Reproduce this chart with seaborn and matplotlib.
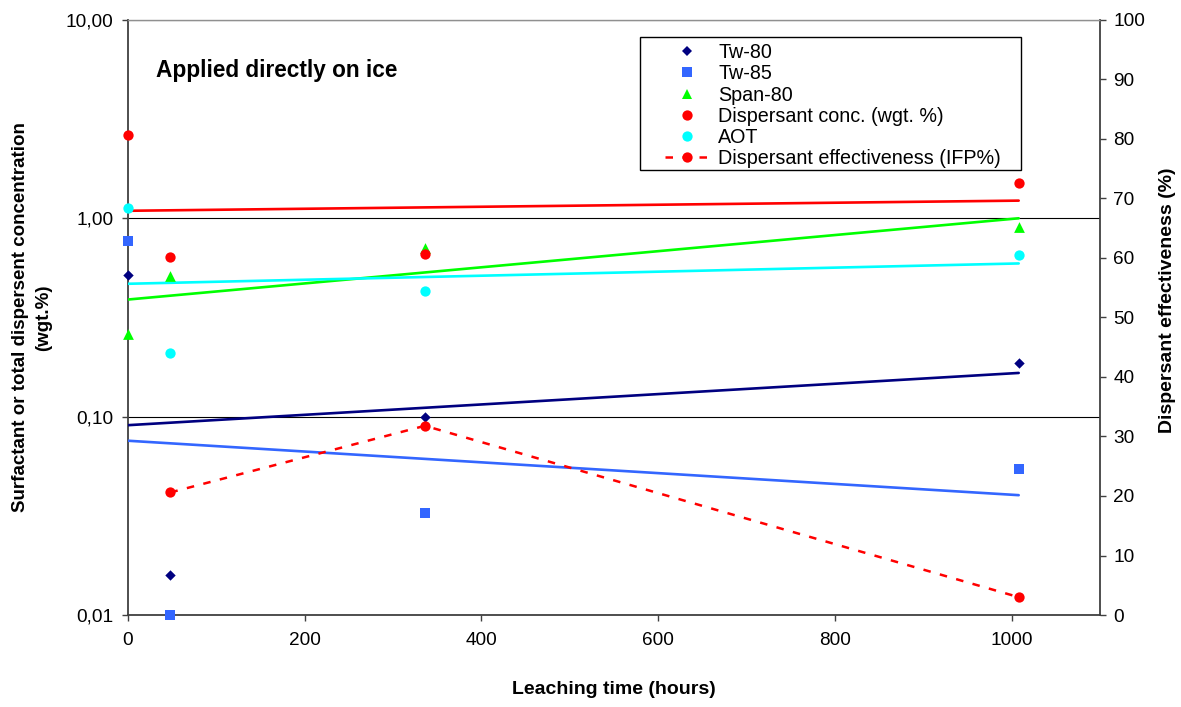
import numpy as np
import pandas as pd
import matplotlib
matplotlib.use("Agg")
import matplotlib.pyplot as plt
import seaborn as sns
from matplotlib import font_manager
from matplotlib.ticker import FixedLocator, FuncFormatter, NullLocator
from matplotlib.patches import Rectangle

# ---------------- data ----------------
hours = [0, 48, 336, 1008]
tw80 = [0.52, 0.016, 0.10, 0.187]
tw85 = [0.77, 0.010, 0.0325, 0.0546]
span80 = [0.26, 0.51, 0.71, 0.90]
disp_conc = [2.62, 0.64, 0.66, 1.51]
aot = [1.13, 0.21, 0.43, 0.65]
ifp_hours = [48, 336, 1008]
ifp = [20.6, 31.8, 3.0]

series_names = ["Tw-80", "Tw-85", "Span-80", "Dispersant conc. (wgt. %)", "AOT"]
series_values = [tw80, tw85, span80, disp_conc, aot]
ifp_label = "Dispersant effectiveness (IFP%)"

x_ticks = [0, 200, 400, 600, 800, 1000]
left_ticks = [0.01, 0.1, 1, 10]
right_ticks = list(range(0, 101, 10))

# ---------------- style ----------------
sns.set_theme(style="white")
names = {f.name for f in font_manager.fontManager.ttflist}
narrow = "Liberation Sans Narrow" if "Liberation Sans Narrow" in names else "Liberation Sans"
plt.rcParams["font.family"] = ["Liberation Sans", "DejaVu Sans"]
plt.rcParams["text.color"] = "black"
plt.rcParams["axes.labelcolor"] = "black"
plt.rcParams["xtick.color"] = "black"
plt.rcParams["ytick.color"] = "black"

colors = {"Tw-80": "#000080", "Tw-85": "#3366FF", "Span-80": "#00FF00",
          "Dispersant conc. (wgt. %)": "#FF0000", "AOT": "#00FFFF"}
markers = {"Tw-80": "D", "Tw-85": "s", "Span-80": "^",
           "Dispersant conc. (wgt. %)": "o", "AOT": "o"}
msizes = {"Tw-80": 28, "Tw-85": 48, "Span-80": 60,
          "Dispersant conc. (wgt. %)": 55, "AOT": 55}

W, H = 1181, 707
fig = plt.figure(figsize=(W / 100, H / 100), dpi=100)
L, R, T, B = 128, 1100, 20, 615
ax = fig.add_axes([L / W, 1 - B / H, (R - L) / W, (B - T) / H])

df = pd.DataFrame({
    "hours": np.tile(hours, len(series_names)),
    "conc": np.concatenate(series_values),
    "series": np.repeat(series_names, len(hours)),
})

handles = []
for name in series_names:
    sub = df[df["series"] == name]
    sns.scatterplot(data=sub, x="hours", y="conc", ax=ax, color=colors[name],
                    marker=markers[name], s=msizes[name], linewidth=0,
                    zorder=4, legend=False, clip_on=False)
    # exponential trend line (least squares on log values)
    k, b0 = np.polyfit(sub["hours"], np.log10(sub["conc"]), 1)
    xfit = np.array([sub["hours"].min(), sub["hours"].max()])
    yfit = 10 ** (k * xfit + b0)
    sns.lineplot(x=xfit, y=yfit, ax=ax, color=colors[name], lw=1.9, zorder=3)
    handles.append(plt.Line2D([], [], ls="none", marker=markers[name],
                              color=colors[name], markersize=np.sqrt(msizes[name]),
                              markeredgewidth=0, label=name))

ax.set_yscale("log")
ax.set_xlim(0, 1100)
ax.set_ylim(0.01, 10)
ax.xaxis.set_major_locator(FixedLocator(x_ticks))
ax.yaxis.set_major_locator(FixedLocator(left_ticks))
ax.yaxis.set_minor_locator(NullLocator())
ax.yaxis.set_major_formatter(FuncFormatter(lambda v, p: f"{v:.2f}".replace(".", ",")))
ax.grid(axis="y", which="major", color="black", lw=0.8)
ax.grid(axis="x", visible=False)
ax.tick_params(axis="both", which="major", direction="out", length=4.5, width=1,
               color="#404040", labelsize=13.7, labelcolor="black", left=True, bottom=True)
ax.tick_params(axis="x", pad=8)
ax.tick_params(axis="y", pad=6)
for s in ["left", "bottom", "right"]:
    ax.spines[s].set_color("#404040")
    ax.spines[s].set_linewidth(1.3)
ax.spines["top"].set_color("#909090")
ax.spines["top"].set_linewidth(1)

ax.set_xlabel("Leaching time (hours)", fontsize=14, fontweight="bold",
              family=[narrow, "DejaVu Sans"], va="center")
ax.xaxis.set_label_coords(0.5, (B - 690) / (B - T))
ax.set_ylabel("Surfactant or total dispersent concentration\n(wgt.%)", fontsize=13.5,
              fontweight="bold", family=[narrow, "DejaVu Sans"], va="center", ha="center",
              linespacing=1.5)
ax.yaxis.set_label_coords((32 - L) / (R - L), 0.5)

ax.text((156 - L) / (R - L), (B - 71) / (B - T), "Applied directly on ice",
        transform=ax.transAxes, fontsize=16.3, fontweight="bold", va="center", ha="left")

# secondary axis
ax2 = ax.twinx()
sns.lineplot(x=ifp_hours, y=ifp, ax=ax2, color="#FF0000", lw=1.8,
             linestyle=(0, (3.0, 3.8)), marker="o", markersize=np.sqrt(55),
             markeredgewidth=0, zorder=5, clip_on=False)
ax2.set_ylim(0, 100)
ax2.yaxis.set_major_locator(FixedLocator(right_ticks))
ax2.tick_params(axis="y", direction="out", length=4.5, width=1, color="#404040",
                labelsize=13.7, pad=5, right=True)
for s in ax2.spines.values():
    s.set_visible(False)
ax2.grid(False)
ax2.set_ylabel("Dispersant effectiveness (%)", fontsize=14, fontweight="bold",
               family=[narrow, "DejaVu Sans"], rotation=90, va="center", ha="center")
ax2.yaxis.set_label_coords((1167 - L) / (R - L), (B - 300) / (B - T))

handles.append(plt.Line2D([], [], color="#FF0000", lw=1.8, linestyle=(0, (3.0, 3.8)),
                          marker="o", markersize=np.sqrt(55), markeredgewidth=0,
                          label=ifp_label))

# legend frame and legend
fig.patches.append(Rectangle((640 / W, 1 - 170 / H), (1021 - 640) / W, (170 - 37) / H,
                             transform=fig.transFigure, facecolor="white",
                             edgecolor="black", lw=1, zorder=10))
leg = fig.legend(handles=handles, loc="upper left",
                 bbox_to_anchor=(665 / W, 1 - 43 / H), bbox_transform=fig.transFigure,
                 frameon=False, fontsize=14.2, borderpad=0, borderaxespad=0,
                 handlelength=2.2, handletextpad=0.5, labelspacing=0.115)
leg.set_zorder(11)

fig.savefig("out.png", dpi=100)
